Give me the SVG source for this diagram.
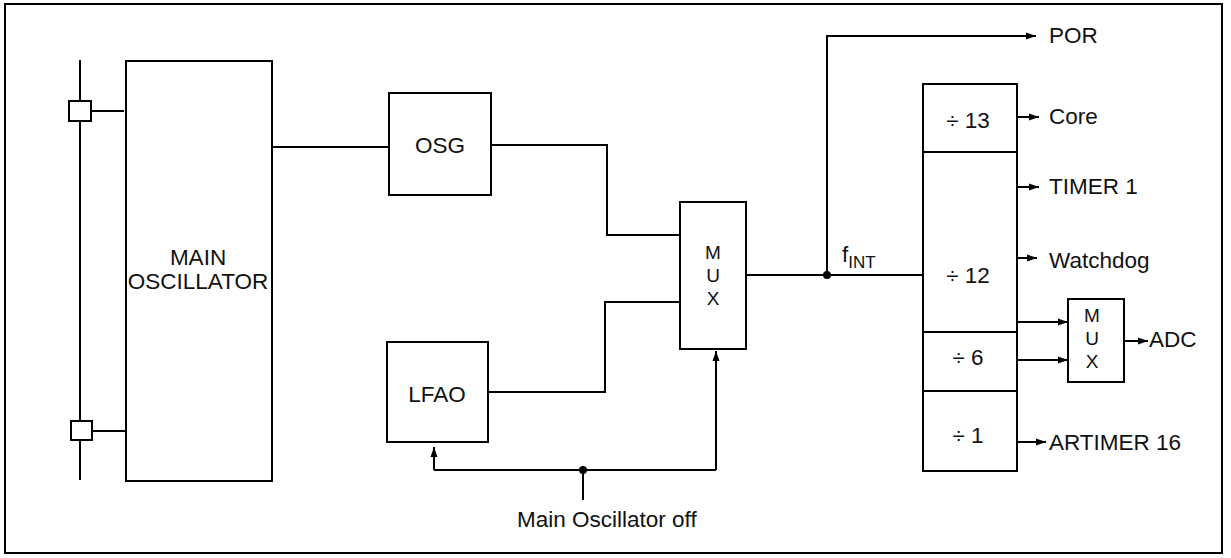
<svg xmlns="http://www.w3.org/2000/svg" width="1231" height="558" viewBox="0 0 1231 558">
<defs>
<marker id="arr" markerUnits="userSpaceOnUse" markerWidth="11" markerHeight="8" refX="10" refY="4" orient="auto">
<path d="M0,0.5 L10,4 L0,7.5 z" fill="#000"/>
</marker>
<style>
.b{fill:#fff;stroke:#000;stroke-width:2}
.w{fill:none;stroke:#000;stroke-width:2}
.a{fill:none;stroke:#000;stroke-width:2;marker-end:url(#arr)}
text{font-family:"Liberation Sans",Arial,sans-serif;font-size:22.5px;fill:#111}
.c{text-anchor:middle}
.m{font-size:19px}
</style>
</defs>
<rect x="5" y="4" width="1217" height="549" fill="#fff" stroke="#000" stroke-width="2"/>
<g id="connectors">
<line class="w" x1="80" y1="60" x2="80" y2="480"/>
<line class="w" x1="91" y1="111" x2="124" y2="111"/>
<line class="w" x1="92" y1="431" x2="126" y2="431"/>
<line class="w" x1="270" y1="147" x2="389" y2="147"/>
<polyline class="w" points="491,145 607,145 607,235 682,235"/>
<polyline class="w" points="488,392 605,392 605,302 680,302"/>
<polyline class="w" points="434,470 716,470"/>
<path class="a" d="M434,470 V447"/>
<path class="a" d="M716,470 V351"/>
<circle cx="583" cy="470" r="4" fill="#000"/>
<line class="w" x1="583" y1="470" x2="583" y2="500"/>
<line class="w" x1="746" y1="275" x2="923" y2="275"/>
<circle cx="827" cy="275" r="4" fill="#000"/>
<path class="a" d="M827,275 V36 H1036"/>
<line class="a" x1="1017" y1="117" x2="1039" y2="117"/>
<line class="a" x1="1017" y1="187" x2="1039" y2="187"/>
<line class="a" x1="1015" y1="258" x2="1037" y2="258"/>
<line class="a" x1="1017" y1="322" x2="1068" y2="322"/>
<line class="a" x1="1017" y1="360" x2="1068" y2="360"/>
<line class="a" x1="1124" y1="341" x2="1148" y2="341"/>
<line class="a" x1="1017" y1="442" x2="1046" y2="442"/>
</g>
<g id="pad1"><rect class="b" x="69" y="101" width="22" height="20"/></g>
<g id="pad2"><rect class="b" x="71" y="421" width="21" height="19"/></g>
<g id="main-osc">
<rect class="b" x="126" y="61" width="146" height="420"/>
<text class="c" x="198" y="265">MAIN</text>
<text class="c" x="198" y="289">OSCILLATOR</text>
</g>
<g id="osg">
<rect class="b" x="389" y="93" width="102" height="102"/>
<text class="c" x="440" y="153">OSG</text>
</g>
<g id="lfao">
<rect class="b" x="387" y="342" width="101" height="100"/>
<text class="c" x="437" y="402">LFAO</text>
</g>
<g id="mux1">
<rect class="b" x="680" y="202" width="66" height="147"/>
<text class="c m" x="713" y="259">M</text>
<text class="c m" x="713" y="282">U</text>
<text class="c m" x="713" y="305">X</text>
</g>
<g id="divider">
<rect class="b" x="923" y="84" width="94" height="387"/>
<line class="w" x1="923" y1="152" x2="1017" y2="152"/>
<line class="w" x1="923" y1="332" x2="1017" y2="332"/>
<line class="w" x1="923" y1="391" x2="1017" y2="391"/>
<text class="c" x="968" y="128">÷ 13</text>
<text class="c" x="968" y="283">÷ 12</text>
<text class="c" x="968" y="365">÷ 6</text>
<text class="c" x="968" y="443">÷ 1</text>
</g>
<g id="mux2">
<rect class="b" x="1068" y="299" width="56" height="83"/>
<text class="c m" x="1092" y="322">M</text>
<text class="c m" x="1092" y="345">U</text>
<text class="c m" x="1092" y="368">X</text>
</g>
<g id="labels">
<text x="1049" y="43">POR</text>
<text x="1049" y="124">Core</text>
<text x="1049" y="194">TIMER 1</text>
<text x="1049" y="268">Watchdog</text>
<text x="1149" y="347">ADC</text>
<text x="1049" y="450">ARTIMER 16</text>
<text x="842" y="262">f<tspan font-size="17" dy="6">INT</tspan></text>
<text x="517" y="527">Main Oscillator off</text>
</g>
</svg>
